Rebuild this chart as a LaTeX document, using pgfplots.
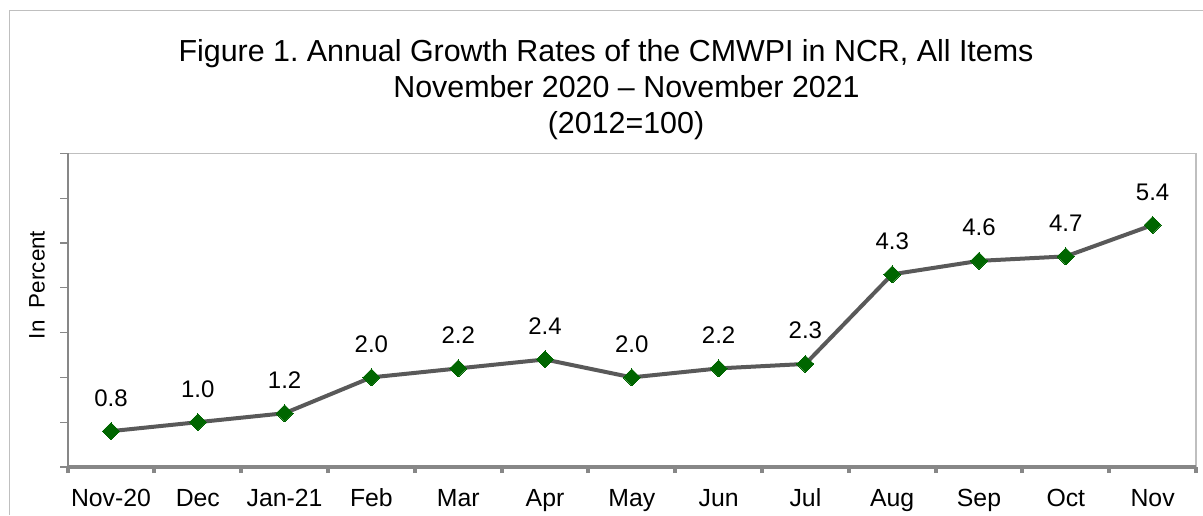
\documentclass[border=0pt]{standalone}
\usepackage{pgfplots}
\pgfplotsset{compat=1.18}
\usepackage{fontspec}
\setmainfont{Liberation Sans}
\definecolor{lineg}{HTML}{595959}
\definecolor{mkg}{HTML}{006600}
\definecolor{frameg}{HTML}{BFBFBF}
\definecolor{axg}{HTML}{878787}
\begin{document}
\frenchspacing
\begin{tikzpicture}
\useasboundingbox (0,0) rectangle (601.5pt,257.5pt);
\draw[frameg, line width=0.6pt] (4.75pt,0pt) -- (4.75pt,252.25pt) -- (601.5pt,252.25pt);
\node[font=\fontsize{15.2}{18}\selectfont, anchor=base] at (303pt,226.5pt) {Figure 1. Annual Growth Rates of the CMWPI in NCR, All Items};
\node[font=\fontsize{15.2}{18}\selectfont, anchor=base] at (313.25pt,208.5pt) {November 2020 -- November 2021};
\node[font=\fontsize{15.2}{18}\selectfont, anchor=base] at (313pt,190.5pt) {(2012=100)};
\node[font=\fontsize{11.2}{13}\selectfont, rotate=90] at (18.5pt,115pt) {In\ \ Percent};
\begin{axis}[
  at={(33.8pt,24pt)}, anchor=south west,
  scale only axis, width=564.2pt, height=156.85pt,
  xmin=-0.5, xmax=12.5, ymin=0, ymax=7,
  axis line style={draw=none},
  xtick={0,...,12},
  xticklabels={Nov-20,Dec,Jan-21,Feb,Mar,Apr,May,Jun,Jul,Aug,Sep,Oct,Nov},
  minor xtick={-0.5,0.5,...,12.5},
  ytick={0,...,7}, yticklabels={},
  tick align=outside, xtick pos=bottom, ytick pos=left,
  major x tick style={draw=none},
  minor x tick style={axg, line width=2pt},
  minor tick length=3pt,
  y tick style={axg, line width=0.6pt},
  major tick length=3.75pt,
  xticklabel style={font=\fontsize{12.4}{14}\selectfont, text=black, anchor=north,
    text height=9pt, text depth=0pt, yshift=-3.5pt},
  /pgf/number format/assume math mode=true,
  nodes near coords,
  nodes near coords style={font=\fontsize{12}{14}\selectfont, text=black, anchor=base, yshift=12.5pt, inner sep=0pt,
    /pgf/number format/.cd, fixed, fixed zerofill, precision=1, assume math mode=true},
  clip=false,
]
\draw[frameg, line width=0.75pt] (rel axis cs:0,1) -- (rel axis cs:1,1) -- (rel axis cs:1,0);
\draw[axg, line width=1pt] (rel axis cs:0,0) -- (rel axis cs:0,1);
\draw[axg, line width=2pt] (rel axis cs:0,0) -- (rel axis cs:1,0);
\addplot[color=lineg, line width=2pt, mark=square*, mark size=3pt,
  mark options={fill=mkg, draw=mkg, line width=0pt, rotate=45}]
  coordinates {(0,0.8) (1,1.0) (2,1.2) (3,2.0) (4,2.2) (5,2.4) (6,2.0) (7,2.2) (8,2.3) (9,4.3) (10,4.6) (11,4.7) (12,5.4)};
\end{axis}
\end{tikzpicture}
\end{document}
